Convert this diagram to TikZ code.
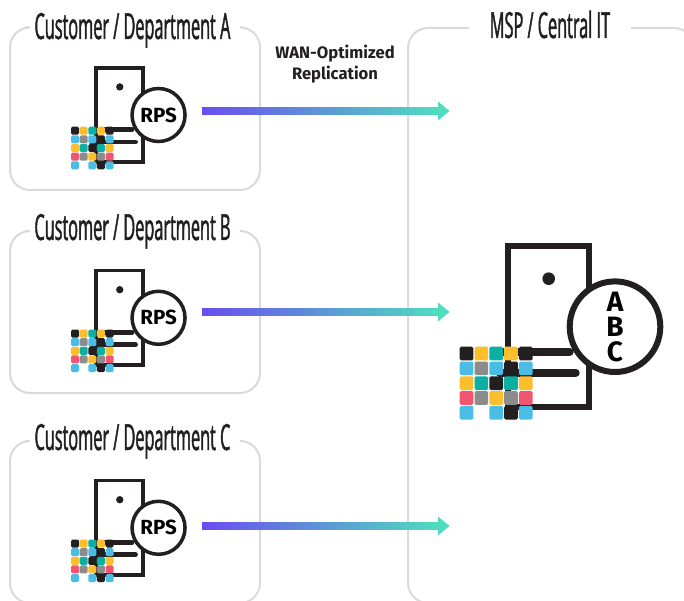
\documentclass[tikz,border=0pt]{standalone}
\usepackage{fontspec}
\newfontfamily\condfont[FakeStretch=0.452,FakeBold=1.2]{Open Sans}
\setmainfont{Fira Sans}
\definecolor{boxgrey}{HTML}{DCD9DA}
\definecolor{ink}{HTML}{231F20}
\definecolor{startc}{HTML}{6A4DF0}
\definecolor{endc}{HTML}{4FDCBF}
\definecolor{cY}{HTML}{FDBE2C}
\definecolor{cT}{HTML}{0AB0A4}
\definecolor{cB}{HTML}{4ABDE6}
\definecolor{cG}{HTML}{8C8C8C}
\definecolor{cR}{HTML}{F2556F}
\tikzset{
  x=1pt,y=-1pt,
  frameline/.style={draw=boxgrey,line width=2pt,rounded corners=20pt},
  title/.style={font=\condfont\fontsize{36}{36}\selectfont,text=ink,inner sep=0pt,anchor=base},
  caption/.style={font=\bfseries\fontsize{16.6}{21}\selectfont,text=ink,align=center,inner sep=0pt},
}
\newcommand{\cell}[3]{\fill[#3,rounded corners=1.5pt] (#1*14.8,#2*14.8) rectangle ++(13.7,13.7);}
% #1,#2 = grid corner; #3 = scale; #4 = name; #5 = label; #6 = server shift from the grid
\newcommand{\serverpic}[6]{%
\begin{scope}[shift={(#1+#6,#2)},scale=#3,x=1pt,y=-1pt]
  \draw[draw=ink,line width=#3*6pt] (48.3,-100.7) rectangle (129,60.3);
  \fill[ink] (89,-68) circle (6.3);
  \foreach \yy/\xe in {5/110,26/116}{
    \draw[ink,line width=#3*8pt,line cap=round] (40,\yy) -- (\xe,\yy);}
  \draw[fill=white,draw=ink,line width=#3*6pt] (155.3,-20) circle (45.3);
  \node[inner sep=0pt] (#4) at (155.3,-20) {#5};
\end{scope}
\begin{scope}[shift={(#1,#2)},scale=#3,x=1pt,y=-1pt]
  \foreach \r/\cols in {0/{ink,cY,cT,cY,ink},1/{cB,cG,cB,ink,cB},2/{cY,cT,ink,cT,cY},3/{cR,cG,cY,cG,cR},4/{cB,white,cB,ink,cB}}{
    \foreach \c [count=\i from 0] in \cols {\cell{\i}{\r}{\c}}}
\end{scope}}
\begin{document}
\begin{tikzpicture}
\useasboundingbox (0,0) rectangle (684,601);
\fill[white] (0,0) rectangle (684,601);
% frames
\draw[frameline] (25,27.5) -| (10,190) -| (260,27.5) -- (243,27.5);
\draw[frameline] (25,231) -| (10,393) -| (260,231) -- (243,231);
\draw[frameline] (25,441) -| (10,603) -| (260,441) -- (243,441);
\draw[frameline] (469,28) -- (408,28) |- (694,603);
\draw[frameline] (631,28) -| (694,90);
% titles
\node[title] (ta) at (132.5,39) {Customer / Department A};
\node[title] (tb) at (132.5,240) {Customer / Department B};
\node[title] (tc) at (132.5,450) {Customer / Department C};
\node[title] (tm) at (550,38) {MSP / Central IT};
\node[caption] (cap) at (335,64) {WAN-Optimized\\Replication};
% servers
\serverpic{71}{126.7}{0.585}{sa}{\bfseries\fontsize{20.5}{20.5}\selectfont RPS}{-3.3}
\serverpic{71}{329.5}{0.585}{sb}{\bfseries\fontsize{20.5}{20.5}\selectfont RPS}{-3.3}
\serverpic{71}{539.5}{0.585}{sc}{\bfseries\fontsize{20.5}{20.5}\selectfont RPS}{-3.3}
\serverpic{459.7}{346.7}{1}{sm}{\parbox{40pt}{\centering\bfseries\fontsize{28}{25}\selectfont A\\B\\C}}{0}
% connectors
\coordinate (a1) at (202,111); \coordinate (a2) at (438,111);
\coordinate (b1) at (202,312); \coordinate (b2) at (438,312);
\coordinate (c1) at (202,526); \coordinate (c2) at (438,526);
\foreach \p/\q in {a1/a2,b1/b2,c1/c2}{
  \shade[left color=startc,right color=endc] ([yshift=3.7pt]\p) rectangle ([yshift=-3.7pt]\q);
  \fill[endc] ([yshift=9.5pt]\q) -- ([xshift=11.5pt]\q) -- ([yshift=-9.5pt]\q) -- cycle;
}
\end{tikzpicture}
\end{document}
